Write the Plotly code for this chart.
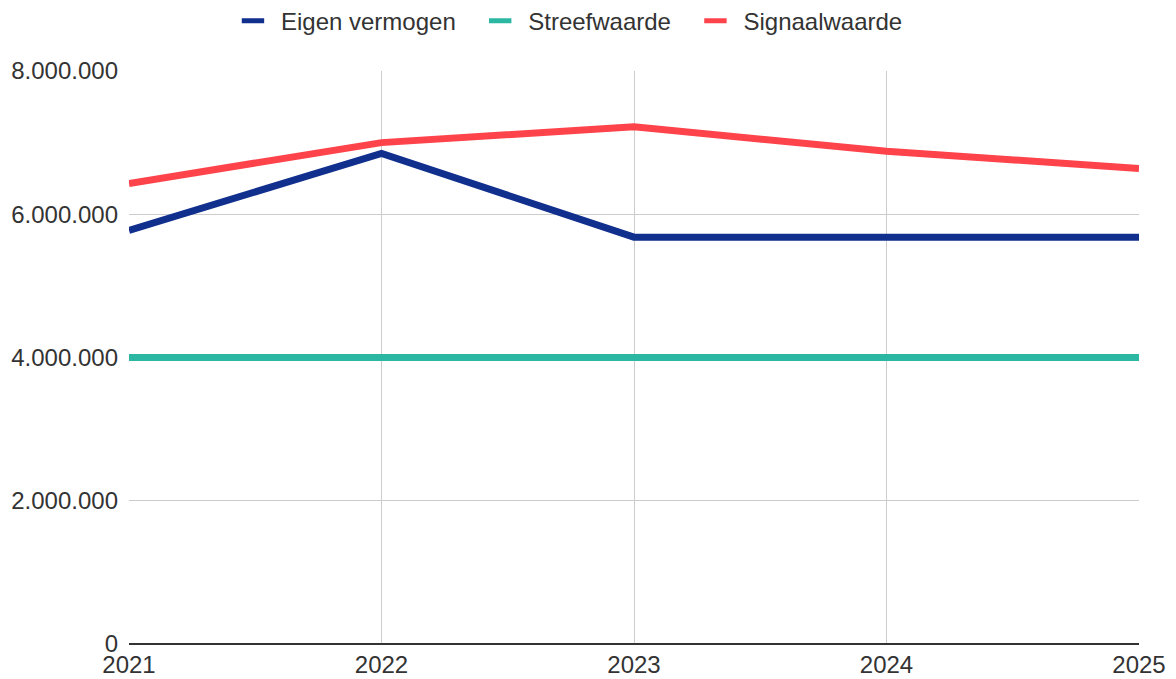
import plotly.graph_objects as go

years = [2021, 2022, 2023, 2024, 2025]
eigen_vermogen = [5775000, 6850000, 5680000, 5680000, 5680000]
streefwaarde = [4000000, 4000000, 4000000, 4000000, 4000000]
signaalwaarde = [6430000, 7000000, 7220000, 6880000, 6640000]
y_ticks = [0, 2000000, 4000000, 6000000, 8000000]
y_tick_labels = ["0", "2.000.000", "4.000.000", "6.000.000", "8.000.000"]

series = [
    ("Eigen vermogen", eigen_vermogen, "#112f8c"),
    ("Streefwaarde", streefwaarde, "#2bb7a2"),
    ("Signaalwaarde", signaalwaarde, "#ff434b"),
]

FONT = "Liberation Sans, Arial, sans-serif"
TXT = "#333333"
PAD = "\u00a0\u2009"  # invisible spacing between legend entries

fig = go.Figure()
for name, vals, col in series:
    fig.add_trace(go.Scatter(x=years, y=vals, mode="lines", name=name,
                             line=dict(color=col, width=7), showlegend=False,
                             cliponaxis=False))
for i, (name, vals, col) in enumerate(series):
    label = name + (PAD if i < len(series) - 1 else "")
    fig.add_trace(go.Scatter(x=[None], y=[None], mode="markers", name=label,
                             marker=dict(color=col, symbol="line-ew", size=24,
                                         line=dict(color=col, width=8))))

fig.update_layout(
    width=1176, height=679,
    margin=dict(l=129, r=37, t=71, b=35, autoexpand=False),
    paper_bgcolor="white", plot_bgcolor="white",
    font=dict(family=FONT, size=24, color=TXT),
    legend=dict(orientation="h", x=0.1913, xanchor="left", y=0.969, yanchor="middle",
                xref="container", yref="container",
                font=dict(family=FONT, size=24, color=TXT),
                itemwidth=46, tracegroupgap=0),
    xaxis=dict(range=[2021, 2025], tickvals=years, ticktext=[str(y) for y in years],
               showgrid=True, gridcolor="#cccccc", gridwidth=1, zeroline=False,
               showline=False, ticks="", automargin=False, ticklabelstandoff=4,
               tickfont=dict(family=FONT, size=24, color=TXT)),
    yaxis=dict(range=[0, 8000000], tickvals=y_ticks, ticktext=y_tick_labels,
               showgrid=True, gridcolor="#cccccc", gridwidth=1,
               zeroline=True, zerolinecolor="#333333", zerolinewidth=2,
               showline=False, ticks="", ticklabelstandoff=10, automargin=False,
               tickfont=dict(family=FONT, size=24, color=TXT)),
)

# remove the default 8px page margin so the figure fills the window exactly
fig.write_html("out.html", config={"displayModeBar": False},
               post_script="document.body.style.margin='0';document.body.style.overflow='hidden';")
